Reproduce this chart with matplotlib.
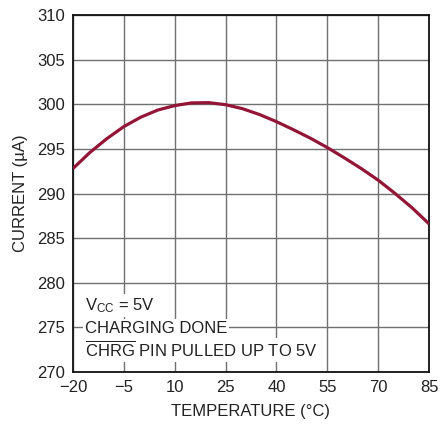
import numpy as np
import matplotlib
matplotlib.use("Agg")
import matplotlib.pyplot as plt

# temperature (C) vs current (uA)
temp = [-20, -15, -10, -5, 0, 5, 10, 15, 20, 25, 30, 35, 40, 45, 50, 55, 60, 65, 70, 75, 80, 85]
current = [292.8, 294.6, 296.15, 297.5, 298.55, 299.35, 299.85, 300.15, 300.18, 299.95,
           299.5, 298.85, 298.05, 297.15, 296.2, 295.15, 294.0, 292.8, 291.5, 290.0, 288.4, 286.6]

xticks = [-20, -5, 10, 25, 40, 55, 70, 85]
yticks = [270, 275, 280, 285, 290, 295, 300, 305, 310]

FONT = "Liberation Sans"
plt.rcParams['font.family'] = [FONT, 'DejaVu Sans']
plt.rcParams['mathtext.fontset'] = 'custom'
plt.rcParams['mathtext.rm'] = FONT
plt.rcParams['mathtext.it'] = FONT
plt.rcParams['axes.unicode_minus'] = True

FS = 12
TXT = '#222222'

fig = plt.figure(figsize=(4.41, 4.25), dpi=100)
ax = fig.add_axes([0.1655, 0.1247, 0.8073, 0.84])

ax.plot(temp, current, color='#931638', lw=2.3, solid_capstyle='butt', zorder=3)

ax.set_xlim(-20, 85)
ax.set_ylim(270, 310)
ax.set_xticks(xticks)
ax.set_yticks(yticks)
ax.grid(True, color='#707070', lw=1.0)
ax.tick_params(length=0, labelsize=FS, colors=TXT, pad=6)
for s in ax.spines.values():
    s.set_color('#111111')
    s.set_linewidth(1.3)

ax.set_xlabel('TEMPERATURE (°C)', fontsize=FS, color=TXT, labelpad=6)
ax.set_ylabel('CURRENT (µA)', fontsize=FS, color=TXT, labelpad=6)

box = dict(facecolor='white', edgecolor='none', pad=1.5)
ax.text(-16.5, 276.95, r'V$_{\mathrm{CC}}$ = 5V', fontsize=FS, color=TXT,
        va='baseline', ha='left', bbox=box, zorder=4)
ax.text(-16.5, 274.37, 'CHARGING DONE', fontsize=FS, color=TXT,
        va='baseline', ha='left', bbox=box, zorder=4)
ax.text(-16.5, 271.68, r'$\overline{\mathrm{CHRG}}$ PIN PULLED UP TO 5V', fontsize=FS,
        color=TXT, va='baseline', ha='left', bbox=box, zorder=4)

fig.savefig('out.png', dpi=100)
